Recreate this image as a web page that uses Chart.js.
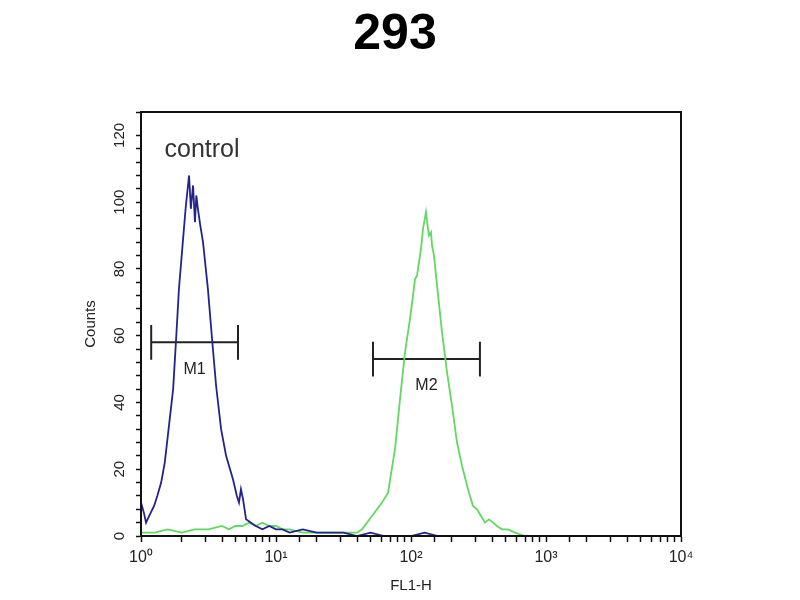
<!DOCTYPE html>
<html>
<head>
<meta charset="utf-8">
<script src="https://cdn.jsdelivr.net/npm/chart.js@4/dist/chart.umd.min.js"></script>
<style>
  html, body { margin: 0; padding: 0; background: #fff; }
  #wrap { width: 800px; height: 600px; }
</style>
</head>
<body>
<div id="wrap"><canvas id="histChart" width="800" height="600"></canvas></div>
<script>
// FL1-H channel values and counts
const controlFL1 = [1.00, 1.05, 1.09, 1.15, 1.25, 1.32, 1.41, 1.50, 1.58, 1.73, 1.82, 1.91, 2.05, 2.15, 2.27,
  2.34, 2.43, 2.51, 2.57, 2.64, 2.75, 2.88, 3.02, 3.13, 3.36, 3.60, 3.92, 4.27, 4.80, 5.13, 5.32, 5.50, 5.70,
  6.00, 6.53, 7.08, 7.94, 8.91, 10.0, 11.2, 12.6, 15.8, 20.0, 25.1, 31.6, 39.8, 50.1, 63.1, 100, 126, 158, 251, 1000, 10000];
const controlCounts = [10, 7, 4, 6, 9, 12, 16, 22, 30, 44, 59, 74, 89, 99, 108,
  98, 105, 94, 102, 98, 93, 88, 80, 74, 59, 45, 32, 24, 17, 12, 10, 14, 11,
  5, 4, 3, 2, 3, 2, 2, 1, 2, 1, 1, 1, 0, 1, 0, 0, 1, 0, 0, 0, 0];

const sampleFL1 = [1.00, 1.26, 1.58, 2.00, 2.51, 3.16, 3.98, 4.47, 5.01, 5.62, 6.31, 7.08, 7.94, 8.91, 10.0,
  11.2, 12.6, 15.8, 20.0, 25.1, 31.6, 39.8, 43.4, 51.4, 61.0, 67.6, 76.1, 82.9, 90.3, 98.3, 103.5, 107.1,
  110.8, 114.6, 118.6, 122.7, 129.1, 133.6, 135.9, 140.6, 143.2, 148.0, 155.9, 169.8, 184.9, 201.4, 219.3,
  238.8, 264.4, 287.9, 308.3, 330, 353, 378, 405, 433, 472, 523, 589, 699, 1000, 10000];
const sampleCounts = [1, 1, 2, 1, 2, 2, 3, 2, 3, 3, 4, 3, 4, 3, 3,
  2, 2, 1, 1, 1, 1, 1, 2, 6, 10, 13, 26, 41, 55, 65, 72, 77,
  78, 82, 86, 92, 97, 92, 90, 91, 87, 84, 75, 61, 49, 39, 28,
  21, 14, 9, 8, 6, 4, 5, 4, 3, 2, 2, 1, 0, 0, 0];

// marker gates
const gateNames = ['M1', 'M2'];
const gateFrom = [1.19, 52.3];
const gateTo = [5.23, 324];
const gateLevel = [58, 53];
const gateCap = 5.2;

// axis ticks
const decadeValues = [1, 10, 100, 1000, 10000];
const decadeLabels = ['10\u2070', '10\u00B9', '10\u00B2', '10\u00B3', '10\u2074'];
const countLabelStep = 20;

const FONT = '"Liberation Sans", Arial, Helvetica, sans-serif';

function toPoints(xs, ys) {
  return xs.map((v, i) => ({ x: v, y: ys[i] }));
}

function gatePath(i) {
  const lo = gateLevel[i] - gateCap, hi = gateLevel[i] + gateCap;
  return [
    { x: gateFrom[i], y: hi }, { x: gateFrom[i], y: lo }, { x: gateFrom[i], y: gateLevel[i] },
    { x: gateTo[i], y: gateLevel[i] }, { x: gateTo[i], y: hi }, { x: gateTo[i], y: lo }
  ];
}

// frame, title and text labels
const overlay = {
  id: 'overlay',
  afterDatasetsDraw(chart) {
    const { ctx, chartArea, scales: { x, y } } = chart;
    ctx.save();
    ctx.strokeStyle = '#111';
    ctx.lineWidth = 2;
    ctx.strokeRect(chartArea.left, chartArea.top, chartArea.right - chartArea.left, chartArea.bottom - chartArea.top);

    ctx.fillStyle = '#000';
    ctx.textAlign = 'center';
    ctx.textBaseline = 'middle';
    ctx.font = 'bold 50px ' + FONT;
    ctx.fillText('293', 395, 35);

    ctx.fillStyle = '#333';
    ctx.font = '25px ' + FONT;
    ctx.fillText('control', chartArea.left + 61, chartArea.top + 38);

    ctx.fillStyle = '#222';
    ctx.font = '16px ' + FONT;
    gateNames.forEach((name, i) => {
      const cx = x.getPixelForValue(Math.sqrt(gateFrom[i] * gateTo[i]));
      const cy = y.getPixelForValue(gateLevel[i]) + 27;
      ctx.fillText(name, cx, cy);
    });
    ctx.restore();
  }
};

const chart = new Chart(document.getElementById('histChart'), {
  type: 'scatter',
  data: {
    datasets: [
      {
        label: 'control',
        data: toPoints(controlFL1, controlCounts),
        showLine: true,
        borderColor: '#23238c',
        borderWidth: 1.8,
        pointRadius: 0,
        tension: 0
      },
      {
        label: '293',
        data: toPoints(sampleFL1, sampleCounts),
        showLine: true,
        borderColor: '#62d862',
        borderWidth: 1.8,
        pointRadius: 0,
        tension: 0
      },
      {
        label: 'M1',
        data: gatePath(0),
        showLine: true,
        borderColor: '#222',
        borderWidth: 2,
        pointRadius: 0
      },
      {
        label: 'M2',
        data: gatePath(1),
        showLine: true,
        borderColor: '#222',
        borderWidth: 2,
        pointRadius: 0
      }
    ]
  },
  options: {
    responsive: false,
    animation: false,
    layout: { padding: { top: 112, right: 119, left: 0, bottom: 0 } },
    plugins: {
      legend: { display: false },
      tooltip: { enabled: false }
    },
    scales: {
      x: {
        type: 'logarithmic',
        min: 1,
        max: 10000,
        afterFit: function(scale) { scale.height = 64; },
        border: { display: true, color: '#111', width: 2 },
        grid: { display: true, drawOnChartArea: false, drawTicks: true, tickLength: 6, tickColor: '#111', tickWidth: 1.5 },
        ticks: {
          autoSkip: false,
          maxRotation: 0,
          minRotation: 0,
          padding: 6,
          color: '#222',
          font: { family: FONT, size: 16 },
          callback: function(value) {
            const k = decadeValues.indexOf(value);
            return k >= 0 ? decadeLabels[k] : '';
          }
        },
        title: {
          display: true,
          text: 'FL1-H',
          color: '#222',
          font: { family: FONT, size: 15 },
          padding: { top: 0, bottom: 5 }
        }
      },
      y: {
        min: 0,
        max: 127,
        afterFit: function(scale) { scale.width = 141; },
        border: { display: true, color: '#111', width: 2 },
        grid: { display: true, drawOnChartArea: false, drawTicks: true, tickLength: 5, tickColor: '#111', tickWidth: 1.5 },
        ticks: {
          stepSize: 4,
          autoSkip: false,
          minRotation: 90,
          maxRotation: 90,
          crossAlign: 'center',
          padding: 4,
          color: '#222',
          font: { family: FONT, size: 15 },
          callback: function(value) {
            return value % countLabelStep === 0 ? String(value) : '';
          }
        },
        title: {
          display: true,
          text: 'Counts',
          color: '#222',
          font: { family: FONT, size: 15 },
          padding: { top: 82, bottom: 0 }
        }
      }
    }
  },
  plugins: [overlay]
});
</script>
</body>
</html>
